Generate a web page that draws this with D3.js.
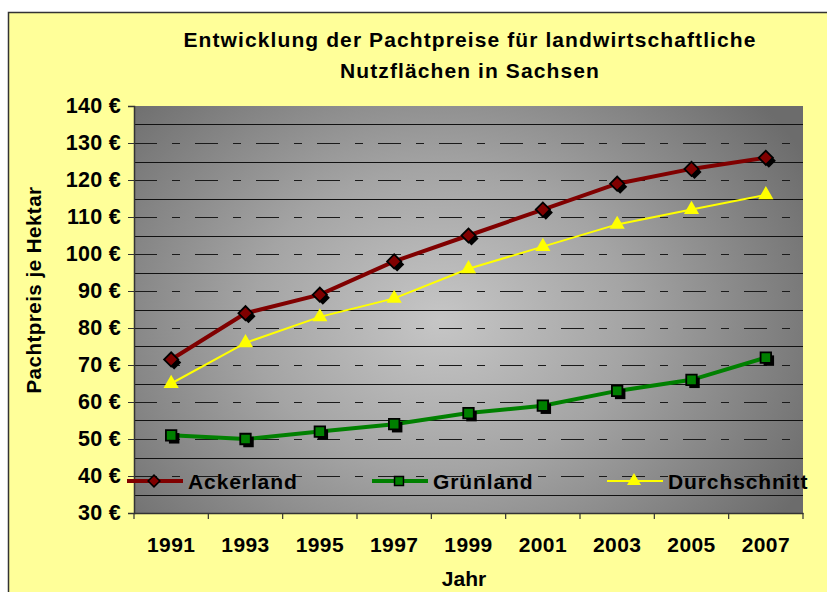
<!DOCTYPE html>
<html><head><meta charset="utf-8">
<script src="https://cdn.jsdelivr.net/npm/d3@7"></script>
<style>
html,body{margin:0;padding:0;background:#fff;}
svg{display:block;font-family:"Liberation Sans",Arial,sans-serif;}
</style></head>
<body>
<svg id="c" width="827" height="592"></svg>
<script>
const years = ["1991","1993","1995","1997","1999","2001","2003","2005","2007"];
const ackerland = [71.5, 84, 89, 98, 105, 112, 119, 123, 126];
const gruenland = [51, 50, 52, 54, 57, 59, 63, 66, 72];
const durchschnitt = [65, 76, 83, 88, 96, 102, 108, 112, 116];
const yTicks = [30,40,50,60,70,80,90,100,110,120,130,140];
const seriesNames = ["Ackerland","Grünland","Durchschnitt"];
const titleLines = ["Entwicklung der Pachtpreise für landwirtschaftliche","Nutzflächen in Sachsen"];

const svg = d3.select("#c");
const L = 134, R = 803, T = 106, B = 513;
const FF = "'Liberation Sans',Arial,sans-serif";

// outer chart area
svg.append("rect").attr("x",8.5).attr("y",12.5).attr("width",830).attr("height",600)
  .attr("fill","#FFFF99").attr("stroke","#333").attr("stroke-width",1.5);

const defs = svg.append("defs");
const rg = defs.append("radialGradient").attr("id","bg").attr("gradientUnits","userSpaceOnUse")
  .attr("cx",440).attr("cy",320).attr("r",420).attr("gradientTransform","translate(440,320) scale(1,0.8) translate(-440,-320)");
rg.append("stop").attr("offset","0").attr("stop-color","#c6c6c6");
rg.append("stop").attr("offset","0.45").attr("stop-color","#a4a4a4");
rg.append("stop").attr("offset","1").attr("stop-color","#6c6c6c");

const x = d3.scaleBand().domain(years).range([L,R]);
const y = d3.scaleLinear().domain([30,140]).range([B,T]);

svg.append("rect").attr("x",L).attr("y",T).attr("width",R-L).attr("height",B-T).attr("fill","url(#bg)");

// gridlines
const g = svg.append("g");
yTicks.filter(v=>v>30 && v<140).forEach(v=>{
  g.append("line").attr("x1",L).attr("x2",R).attr("y1",Math.round(y(v))+0.5).attr("y2",Math.round(y(v))+0.5)
   .attr("stroke","#1a1a1a").attr("stroke-width",1).attr("stroke-dasharray","23,15,8,15");
});
yTicks.filter(v=>v<140).forEach(v=>{
  const yy = Math.round(y(v+5))+0.5;
  g.append("line").attr("x1",L).attr("x2",R).attr("y1",yy).attr("y2",yy)
   .attr("stroke","#111").attr("stroke-width",1.2);
});

// axes
const yAxis = svg.append("g").attr("transform",`translate(${L},0)`)
  .call(d3.axisLeft(y).tickValues(yTicks).tickSize(6).tickPadding(7).tickFormat(d=>d+" €"));
yAxis.select(".domain").attr("stroke","#333").attr("stroke-width",1.5);
yAxis.selectAll(".tick line").attr("stroke","#333");
yAxis.selectAll("text").attr("font-size",21.5).attr("font-weight","bold").attr("fill","#000")
  .attr("font-family",FF).attr("letter-spacing","0.3px");

const xAxis = svg.append("g").attr("transform",`translate(0,${B})`)
  .call(d3.axisBottom(x).tickSize(0).tickPadding(0));
xAxis.select(".domain").attr("stroke","#333").attr("stroke-width",1.5);
xAxis.selectAll("text").attr("font-size",21).attr("font-weight","bold").attr("fill","#000")
  .attr("font-family",FF).attr("dy",null).attr("y",39).attr("letter-spacing","0.4px");
// category boundary ticks
const bounds = years.map(yr=>x(yr)).concat([R]);
svg.append("g").selectAll("line").data(bounds).join("line")
  .attr("x1",d=>d).attr("x2",d=>d).attr("y1",B).attr("y2",B+6).attr("stroke","#333").attr("stroke-width",1.2);

// titles
const title = svg.append("text").attr("text-anchor","middle").attr("font-size",21).attr("font-weight","bold")
  .attr("fill","#000").attr("letter-spacing","1.1px");
titleLines.forEach((t,i)=>title.append("tspan").attr("x",470).attr("y",47+i*31).text(t));
svg.append("text").attr("transform","translate(41,290) rotate(-90)").attr("text-anchor","middle")
  .attr("font-size",20.5).attr("font-weight","bold").attr("fill","#000").attr("letter-spacing","0.5px")
  .text("Pachtpreis je Hektar");
svg.append("text").attr("x",464).attr("y",586).attr("text-anchor","middle")
  .attr("font-size",21).attr("font-weight","bold").attr("fill","#000").text("Jahr");

const cx = yr => x(yr)+x.bandwidth()/2;
const line = d3.line().x((d,i)=>cx(years[i])).y(d=>y(d));

const diamond = d3.symbol().type(d3.symbolSquare).size(100)();
const square = d3.symbol().type(d3.symbolSquare).size(110)();
const tri = d3.symbol().type(d3.symbolTriangle).size(100)();

// lines
svg.append("path").datum(durchschnitt).attr("d",line).attr("fill","none").attr("stroke","#FFFF00").attr("stroke-width",2);
svg.append("path").datum(gruenland).attr("d",line).attr("fill","none").attr("stroke","#008000").attr("stroke-width",4);
svg.append("path").datum(ackerland).attr("d",line).attr("fill","none").attr("stroke","#800000").attr("stroke-width",4);

// markers
function markers(data, path, fill, rot, shadow){
  const gg = svg.append("g");
  data.forEach((v,i)=>{
    const px = cx(years[i]), py = y(v);
    if(shadow){
      gg.append("path").attr("d",path).attr("fill","#000")
        .attr("transform",`translate(${px+3},${py+3}) rotate(${rot})`);
    }
    gg.append("path").attr("d",path).attr("fill",fill).attr("stroke",shadow?"#000":"none").attr("stroke-width",1.8)
      .attr("transform",`translate(${px},${py}) rotate(${rot})`);
  });
}
markers(gruenland, square, "#008000", 0, true);
markers(ackerland, diamond, "#800000", 45, true);
markers(durchschnitt, tri, "#FFFF00", 0, false);

// legend
const legY = 481;
const leg = [
  {name:seriesNames[0], x0:127, color:"#800000", w:4, path:d3.symbol().type(d3.symbolSquare).size(70)(), rot:45, stroke:true},
  {name:seriesNames[1], x0:372, color:"#008000", w:4, path:d3.symbol().type(d3.symbolSquare).size(80)(), rot:0, stroke:true},
  {name:seriesNames[2], x0:607, color:"#FFFF00", w:2, path:d3.symbol().type(d3.symbolTriangle).size(85)(), rot:0, stroke:false}
];
leg.forEach(l=>{
  svg.append("line").attr("x1",l.x0).attr("x2",l.x0+56).attr("y1",legY).attr("y2",legY).attr("stroke",l.color).attr("stroke-width",l.w);
  svg.append("path").attr("d",l.path).attr("fill",l.color).attr("stroke",l.stroke?"#000":"none").attr("stroke-width",1.5)
    .attr("transform",`translate(${l.x0+27},${legY}) rotate(${l.rot})`);
  svg.append("text").attr("x",l.x0+61).attr("y",legY+7.5).attr("font-size",21).attr("font-weight","bold")
    .attr("letter-spacing","0.9px").attr("fill","#000").text(l.name);
});
</script>
</body></html>
